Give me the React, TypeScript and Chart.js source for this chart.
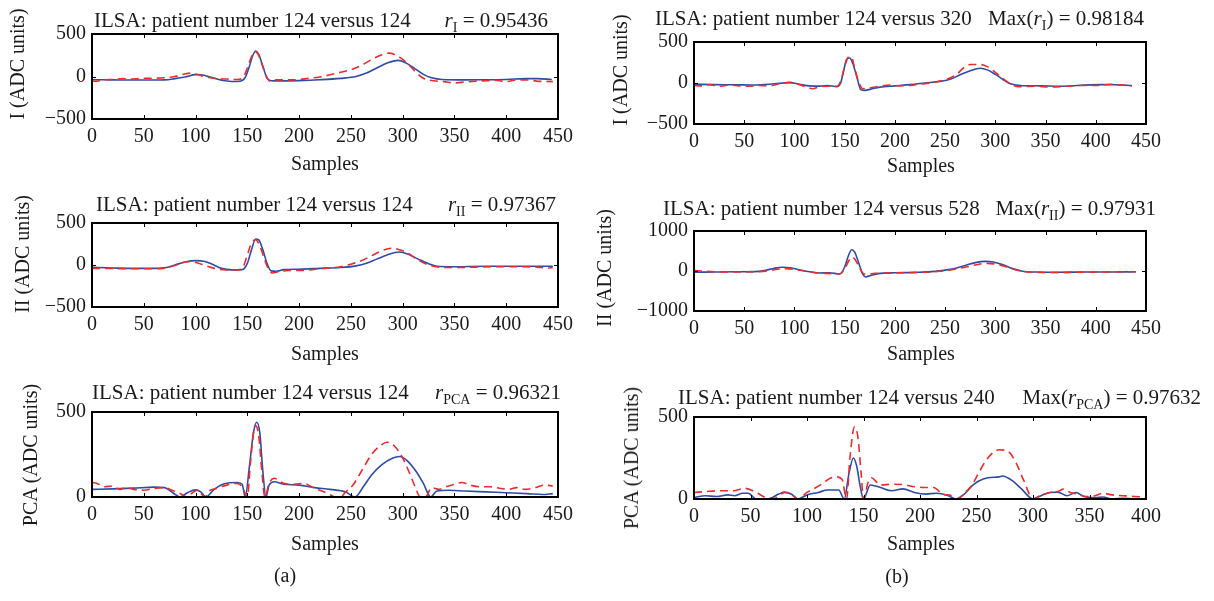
import React, { useEffect, useRef } from "react";
import { Chart, registerables } from "chart.js";
Chart.register(...registerables);

const FONT = "'Liberation Serif', 'Times New Roman', serif";
const BLUE = "#2d4ca8";
const RED = "#ee2b2b";

// ---------- tick values ----------
const xTicks450 = [0, 50, 100, 150, 200, 250, 300, 350, 400, 450];
const xTicks400 = [0, 50, 100, 150, 200, 250, 300, 350, 400];
const yTicks500 = [-500, 0, 500];
const yTicks1000 = [-1000, 0, 1000];
const yTicksPCA = [0, 500];

// ---------- (a) lead I, 124 vs 124 ----------
const a1BlueX = [0, 20, 40, 60, 70, 80, 90, 100, 105, 115, 125, 135, 143, 148, 152, 155, 158, 161, 165, 169, 173, 180, 200, 220, 240, 255, 265, 275, 285, 296, 303, 312, 320, 328, 338, 360, 380, 400, 420, 430, 444];
const a1BlueY = [-38, -40, -42, -42, -40, -25, -5, 22, 20, -10, -45, -58, -55, -10, 120, 240, 300, 260, 120, -20, -50, -52, -48, -38, -22, 0, 40, 100, 160, 190, 160, 90, 25, -15, -35, -40, -38, -35, -25, -25, -35];
const a1RedX = [0, 5, 10, 20, 30, 40, 50, 60, 70, 80, 88, 95, 100, 110, 120, 130, 140, 146, 150, 154, 157, 160, 164, 168, 172, 178, 190, 200, 210, 220, 230, 240, 250, 260, 270, 280, 287, 292, 298, 305, 312, 320, 330, 340, 350, 360, 370, 380, 390, 400, 410, 420, 430, 445];
const a1RedY = [-55, -55, -40, -35, -25, -30, -20, -20, -15, 0, 25, 40, 30, -5, -25, -30, -35, -10, 100, 230, 295, 270, 150, 10, -55, -40, -40, -35, -20, -5, 20, 50, 80, 130, 200, 255, 275, 260, 220, 150, 60, -20, -50, -60, -75, -65, -55, -50, -45, -60, -40, -40, -55, -60];

// ---------- (a) lead II, 124 vs 124 ----------
const a2BlueX = [0, 20, 40, 60, 72, 80, 90, 100, 108, 115, 125, 135, 145, 150, 154, 158, 161, 165, 169, 173, 178, 185, 200, 220, 240, 255, 265, 275, 285, 297, 305, 315, 325, 333, 350, 380, 410, 445];
const a2BlueY = [-28, -35, -40, -40, -30, 0, 35, 52, 45, 15, -40, -58, -55, 20, 180, 310, 300, 180, 20, -70, -75, -55, -50, -40, -30, -10, 20, 70, 120, 155, 130, 70, 15, -15, -20, -15, -15, -15];
const a2RedX = [0, 20, 40, 60, 72, 80, 88, 95, 102, 110, 120, 130, 140, 146, 150, 154, 158, 162, 166, 170, 174, 180, 190, 200, 210, 220, 240, 250, 260, 270, 280, 289, 296, 305, 315, 325, 335, 350, 370, 390, 410, 430, 440, 445];
const a2RedY = [-40, -42, -45, -45, -35, -5, 30, 42, 25, -10, -45, -58, -60, -20, 120, 260, 300, 230, 90, -40, -95, -80, -65, -65, -60, -45, -20, 10, 50, 110, 170, 200, 185, 140, 60, 0, -25, -30, -25, -20, -20, -25, -35, -30];

// ---------- (a) PCA, 124 vs 124 ----------
const a3BlueX = [0, 20, 40, 60, 70, 78, 85, 92, 100, 105, 110, 118, 128, 140, 145, 148, 152, 156, 159, 162, 165, 168, 171, 176, 185, 200, 215, 230, 245, 254, 262, 270, 280, 290, 297, 305, 313, 320, 327, 333, 345, 360, 380, 400, 420, 435, 445];
const a3BlueY = [45, 48, 52, 58, 55, 25, 0, 25, 42, 30, 0, 45, 78, 85, 75, 0, 180, 380, 440, 380, 150, 0, 70, 90, 75, 70, 55, 45, 30, 0, 60, 130, 190, 228, 238, 210, 150, 80, 0, 35, 40, 35, 30, 25, 20, 15, 20];
const a3RedX = [0, 5, 12, 20, 27, 33, 40, 50, 60, 70, 77, 85, 92, 97, 102, 106, 109, 113, 120, 130, 140, 145, 150, 153, 156, 158, 161, 164, 167, 171, 176, 185, 195, 205, 212, 220, 228, 235, 240, 245, 252, 260, 270, 278, 285, 292, 300, 306, 312, 317, 322, 328, 335, 342, 350, 357, 365, 375, 385, 395, 402, 410, 418, 428, 437, 445];
const a3RedY = [85, 80, 60, 65, 45, 55, 45, 40, 50, 55, 40, 20, 0, 25, 40, 15, 0, 35, 50, 70, 80, 60, 0, 200, 380, 420, 360, 150, 0, 80, 110, 80, 75, 80, 60, 40, 20, 0, 0, 30, 70, 150, 250, 300, 322, 300, 230, 150, 60, 0, 0, 55, 45, 60, 75, 85, 70, 60, 60, 50, 45, 55, 45, 55, 70, 65];

// ---------- (b) lead I, 124 vs 320 ----------
const b1BlueX = [0, 20, 40, 60, 80, 95, 105, 115, 125, 133, 142, 146, 149, 152, 155, 158, 162, 166, 170, 176, 185, 200, 215, 230, 245, 255, 265, 275, 285, 292, 300, 308, 315, 325, 345, 365, 385, 405, 420, 436];
const b1BlueY = [-15, -20, -22, -25, -10, 5, -15, -35, -38, -30, -45, 0, 150, 290, 305, 240, 80, -80, -90, -75, -50, -35, -20, 0, 20, 45, 100, 150, 180, 160, 105, 40, -10, -30, -35, -40, -28, -20, -22, -30];
const b1RedX = [0, 8, 15, 25, 35, 45, 55, 65, 75, 85, 95, 105, 112, 118, 125, 133, 142, 146, 150, 154, 157, 160, 164, 168, 175, 185, 195, 205, 215, 225, 235, 245, 255, 262, 268, 275, 285, 292, 300, 308, 316, 324, 340, 355, 370, 385, 400, 415, 425, 436];
const b1RedY = [-30, -35, -20, -40, -25, -35, -40, -30, -35, -10, 8, -20, -50, -70, -45, -40, -40, 20, 200, 320, 310, 180, 10, -70, -60, -40, -25, -35, -30, -15, 0, 25, 60, 110, 180, 225, 225, 200, 130, 50, -20, -45, -40, -50, -40, -30, -30, -15, -25, -35];

// ---------- (b) lead II, 124 vs 528 ----------
const b2BlueX = [0, 20, 40, 60, 70, 80, 88, 96, 105, 115, 125, 135, 145, 150, 154, 157, 160, 164, 168, 171, 176, 185, 200, 220, 240, 255, 270, 280, 290, 298, 307, 317, 327, 340, 360, 380, 400, 420, 440];
const b2BlueY = [-30, -25, -20, -15, 10, 70, 95, 80, 30, -20, -50, -45, -75, 100, 400, 530, 470, 200, -80, -150, -110, -60, -45, -35, -10, 40, 140, 210, 240, 225, 160, 60, -5, -25, -30, -28, -25, -25, -20];
const b2RedX = [0, 10, 20, 40, 60, 75, 85, 92, 100, 110, 120, 132, 145, 150, 154, 157, 160, 164, 168, 172, 180, 195, 215, 235, 250, 265, 280, 290, 300, 310, 320, 330, 345, 365, 385, 405, 425, 440];
const b2RedY = [15, -5, -20, -25, -20, 10, 50, 60, 40, 0, -40, -60, -70, 50, 250, 350, 300, 120, -50, -80, -60, -50, -40, -25, 5, 70, 150, 190, 175, 110, 30, -20, -35, -40, -30, -25, -20, -20];

// ---------- (b) PCA, 124 vs 240 ----------
const b3BlueX = [0, 10, 20, 30, 36, 43, 48, 55, 65, 75, 80, 86, 92, 100, 110, 118, 128, 133, 137, 141, 144, 147, 150, 156, 165, 175, 185, 195, 205, 215, 225, 232, 240, 246, 252, 260, 270, 273, 282, 290, 300, 307, 315, 322, 330, 338, 345, 355, 362, 370, 380, 390, 398];
const b3BlueY = [10, 20, 15, 25, 20, 35, 35, 0, 0, 30, 42, 30, 0, 25, 40, 55, 55, 0, 150, 250, 200, 80, 0, 85, 70, 50, 62, 40, 30, 35, 20, 0, 35, 80, 110, 130, 135, 140, 110, 60, 0, 20, 40, 42, 20, 40, 15, 8, 12, 0, 5, 0, 0];
const b3RedX = [0, 10, 20, 35, 45, 55, 63, 70, 75, 80, 86, 92, 100, 108, 115, 120, 125, 131, 135, 138, 142, 145, 148, 150, 154, 157, 165, 175, 185, 195, 205, 212, 220, 228, 232, 240, 246, 252, 260, 270, 278, 285, 292, 300, 306, 315, 322, 327, 333, 340, 347, 355, 362, 370, 380, 390, 400];
const b3RedY = [40, 45, 50, 50, 65, 40, 10, 0, 20, 40, 30, 0, 40, 70, 100, 125, 135, 120, 0, 250, 440, 380, 150, 0, 100, 130, 85, 90, 88, 75, 70, 70, 30, 20, 0, 40, 85, 160, 250, 300, 290, 220, 110, 0, 20, 40, 45, 60, 40, 30, 15, 20, 35, 25, 20, 15, 10];

type Box = { l: number; t: number; r: number; b: number };
type PanelDef = {
  box: Box;
  xMax: number;
  xTicks: number[];
  yMin: number;
  yMax: number;
  yTicks: number[];
  blueX: number[];
  blueY: number[];
  redX: number[];
  redY: number[];
};

const panels: PanelDef[] = [
  { box: { l: 92, t: 34, r: 558, b: 119 }, xMax: 450, xTicks: xTicks450, yMin: -500, yMax: 500, yTicks: yTicks500, blueX: a1BlueX, blueY: a1BlueY, redX: a1RedX, redY: a1RedY },
  { box: { l: 92, t: 223, r: 558, b: 307 }, xMax: 450, xTicks: xTicks450, yMin: -500, yMax: 500, yTicks: yTicks500, blueX: a2BlueX, blueY: a2BlueY, redX: a2RedX, redY: a2RedY },
  { box: { l: 92, t: 412, r: 558, b: 497 }, xMax: 450, xTicks: xTicks450, yMin: 0, yMax: 500, yTicks: yTicksPCA, blueX: a3BlueX, blueY: a3BlueY, redX: a3RedX, redY: a3RedY },
  { box: { l: 694, t: 42, r: 1146, b: 124 }, xMax: 450, xTicks: xTicks450, yMin: -500, yMax: 500, yTicks: yTicks500, blueX: b1BlueX, blueY: b1BlueY, redX: b1RedX, redY: b1RedY },
  { box: { l: 694, t: 231, r: 1146, b: 311 }, xMax: 450, xTicks: xTicks450, yMin: -1000, yMax: 1000, yTicks: yTicks1000, blueX: b2BlueX, blueY: b2BlueY, redX: b2RedX, redY: b2RedY },
  { box: { l: 694, t: 417, r: 1146, b: 499 }, xMax: 400, xTicks: xTicks400, yMin: 0, yMax: 500, yTicks: yTicksPCA, blueX: b3BlueX, blueY: b3BlueY, redX: b3RedX, redY: b3RedY },
];

const framePlugin = {
  id: "matlabFrame",
  afterDatasetsDraw(chart: any) {
    const { ctx, chartArea } = chart;
    const { left, top, right, bottom } = chartArea;
    const xs = chart.scales.x;
    const ys = chart.scales.y;
    ctx.save();
    ctx.strokeStyle = "#000";
    ctx.lineWidth = 1;
    ctx.beginPath();
    const tl = 4;
    xs.ticks.forEach((t: any) => {
      const px = Math.round(xs.getPixelForValue(t.value)) + 0.5;
      ctx.moveTo(px, bottom);
      ctx.lineTo(px, bottom - tl);
      ctx.moveTo(px, top);
      ctx.lineTo(px, top + tl);
    });
    ys.ticks.forEach((t: any) => {
      const py = Math.round(ys.getPixelForValue(t.value)) + 0.5;
      ctx.moveTo(left, py);
      ctx.lineTo(left + tl, py);
      ctx.moveTo(right, py);
      ctx.lineTo(right - tl, py);
    });
    ctx.stroke();
    ctx.lineWidth = 2;
    ctx.strokeRect(left, top, right - left, bottom - top);
    ctx.restore();
  },
};

const fmt = (v: number) => (v < 0 ? "\u2212" + Math.abs(v) : String(v));

const YW = 100;
const PT = 22;
const PR = 34;
const XH = 44;

function Plot({ p }: { p: PanelDef }) {
  const ref = useRef<HTMLCanvasElement>(null);
  const w = YW + (p.box.r - p.box.l) + PR;
  const h = PT + (p.box.b - p.box.t) + XH;
  useEffect(() => {
    if (!ref.current) return;
    const chart = new Chart(ref.current, {
      type: "line",
      data: {
        datasets: [
          {
            data: p.redX.map((x, i) => ({ x, y: p.redY[i] })),
            borderColor: RED,
            borderWidth: 1.6,
            borderDash: [8, 5],
            pointRadius: 0,
            fill: false,
            cubicInterpolationMode: "monotone",
          },
          {
            data: p.blueX.map((x, i) => ({ x, y: p.blueY[i] })),
            borderColor: BLUE,
            borderWidth: 1.6,
            pointRadius: 0,
            fill: false,
            cubicInterpolationMode: "monotone",
          },
        ],
      },
      options: {
        animation: false,
        responsive: false,
        maintainAspectRatio: false,
        events: [],
        layout: { padding: { top: PT, right: PR, left: 0, bottom: 0 } },
        plugins: { legend: { display: false }, tooltip: { enabled: false }, title: { display: false } },
        scales: {
          x: {
            type: "linear",
            min: 0,
            max: p.xMax,
            afterBuildTicks: (s: any) => {
              s.ticks = p.xTicks.map((v) => ({ value: v }));
            },
            afterFit: (s: any) => {
              s.height = XH;
            },
            grid: { display: false, drawTicks: false },
            border: { display: false },
            ticks: {
              font: { family: FONT, size: 20 },
              color: "#1a1a1a",
              padding: 6,
              maxRotation: 0,
              autoSkip: false,
              callback: (v: any) => fmt(Number(v)),
            },
          },
          y: {
            type: "linear",
            min: p.yMin,
            max: p.yMax,
            afterBuildTicks: (s: any) => {
              s.ticks = p.yTicks.map((v) => ({ value: v }));
            },
            afterFit: (s: any) => {
              s.width = YW;
            },
            grid: { display: false, drawTicks: false },
            border: { display: false },
            ticks: {
              font: { family: FONT, size: 20 },
              color: "#1a1a1a",
              padding: 6,
              autoSkip: false,
              callback: (v: any) => fmt(Number(v)),
            },
          },
        },
      },
      plugins: [framePlugin],
    } as any);
    return () => chart.destroy();
  }, []);
  return (
    <canvas
      ref={ref}
      width={w}
      height={h}
      style={{ position: "absolute", left: p.box.l - YW, top: p.box.t - PT, width: w, height: h }}
    />
  );
}

const TXT = "#1a1a1a";

function Title({ left, right, baseline, main, sub, pre }: { left: number; right: number; baseline: number; main: string; sub: string; pre: boolean }) {
  const top = baseline - 17;
  const common: React.CSSProperties = { position: "absolute", top, fontSize: 21, lineHeight: "20px", whiteSpace: "nowrap", color: TXT };
  return (
    <>
      <div style={{ ...common, left }}>{main}</div>
      <div style={{ ...common, right: 1214 - right }}>
        {pre ? "Max(" : ""}
        <i>r</i>
        <span style={{ fontSize: 14, position: "relative", top: 5 }}>{sub}</span>
        {pre ? ")" : ""} = {pre ? "" : ""}
        {""}
      </div>
    </>
  );
}

function RTitle({ left, right, baseline, main, sub, pre, value }: { left: number; right: number; baseline: number; main: string; sub: string; pre: boolean; value: string }) {
  const top = baseline - 17;
  const common: React.CSSProperties = { position: "absolute", top, fontSize: 21, lineHeight: "20px", whiteSpace: "nowrap", color: TXT };
  return (
    <>
      <div style={{ ...common, left }}>{main}</div>
      <div style={{ ...common, right: 1214 - right }}>
        {pre ? "Max(" : ""}
        <i>r</i>
        <span style={{ fontSize: 14, position: "relative", top: 5 }}>{sub}</span>
        {pre ? ")" : ""}
        {" = " + value}
      </div>
    </>
  );
}

function YLabel({ cx, cy, text }: { cx: number; cy: number; text: string }) {
  return (
    <div
      style={{
        position: "absolute",
        left: cx,
        top: cy,
        transform: "translate(-50%, -50%) rotate(-90deg)",
        fontSize: 20,
        lineHeight: "20px",
        whiteSpace: "nowrap",
        color: TXT,
      }}
    >
      {text}
    </div>
  );
}

function XLabel({ cx, baseline, text }: { cx: number; baseline: number; text: string }) {
  return (
    <div
      style={{
        position: "absolute",
        left: cx,
        top: baseline - 16.75,
        transform: "translateX(-50%)",
        fontSize: 20,
        lineHeight: "20px",
        whiteSpace: "nowrap",
        color: TXT,
      }}
    >
      {text}
    </div>
  );
}

export default function App() {
  return (
    <div
      style={{
        position: "fixed",
        left: 0,
        top: 0,
        width: 1214,
        height: 601,
        background: "#fff",
        fontFamily: FONT,
        overflow: "hidden",
      }}
    >
      {panels.map((p, i) => (
        <Plot key={i} p={p} />
      ))}
      <RTitle left={94} right={548} baseline={27} main="ILSA: patient number 124 versus 124" sub="I" pre={false} value="0.95436" />
      <RTitle left={96} right={556} baseline={211} main="ILSA: patient number 124 versus 124" sub="II" pre={false} value="0.97367" />
      <RTitle left={92} right={561} baseline={399} main="ILSA: patient number 124 versus 124" sub="PCA" pre={false} value="0.96321" />
      <RTitle left={655} right={1144} baseline={25} main="ILSA: patient number 124 versus 320" sub="I" pre={true} value="0.98184" />
      <RTitle left={663} right={1156} baseline={215} main="ILSA: patient number 124 versus 528" sub="II" pre={true} value="0.97931" />
      <RTitle left={678} right={1201} baseline={404} main="ILSA: patient number 124 versus 240" sub="PCA" pre={true} value="0.97632" />

      <YLabel cx={17} cy={64} text="I (ADC units)" />
      <YLabel cx={22} cy={254} text="II (ADC units)" />
      <YLabel cx={30} cy={455} text="PCA (ADC units)" />
      <YLabel cx={620} cy={70} text="I (ADC units)" />
      <YLabel cx={604} cy={268} text="II (ADC units)" />
      <YLabel cx={631} cy={458} text="PCA (ADC units)" />

      <XLabel cx={325} baseline={170} text="Samples" />
      <XLabel cx={325} baseline={360} text="Samples" />
      <XLabel cx={325} baseline={550} text="Samples" />
      <XLabel cx={921} baseline={172} text="Samples" />
      <XLabel cx={921} baseline={360} text="Samples" />
      <XLabel cx={921} baseline={550} text="Samples" />

      <XLabel cx={285} baseline={582} text="(a)" />
      <XLabel cx={897} baseline={583} text="(b)" />
    </div>
  );
}
